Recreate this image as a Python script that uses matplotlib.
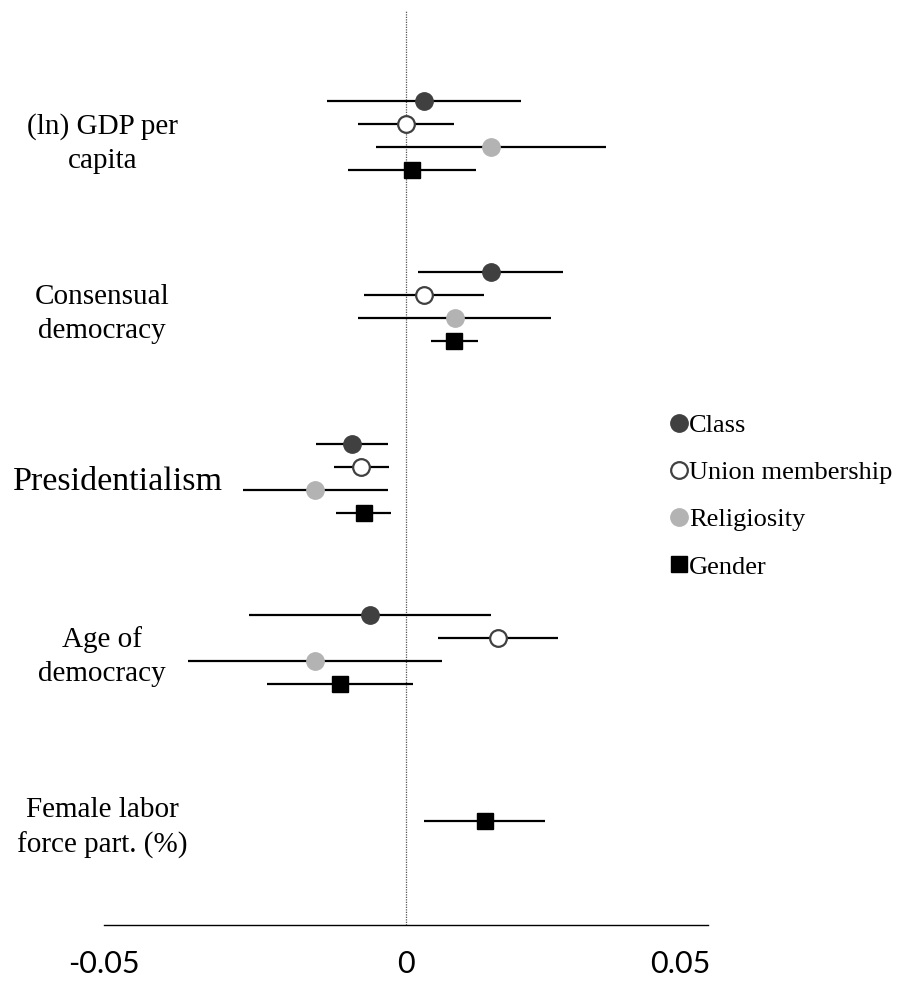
import matplotlib.pyplot as plt
import matplotlib.transforms as mtransforms
import numpy as np

# predictors (rows of the chart)
groups = ["(ln) GDP per\ncapita", "Consensual\ndemocracy", "Presidentialism",
          "Age of\ndemocracy", "Female labor\nforce part. (%)"]

series_names = ["Class", "Union membership", "Religiosity", "Gender"]

nan = np.nan
class_est = [0.003, 0.0141, -0.0089, -0.006, nan]
class_lo = [-0.0131, 0.002, -0.0149, -0.026, nan]
class_hi = [0.019, 0.026, -0.003, 0.0141, nan]

union_est = [0.0, 0.003, -0.0075, 0.0152, nan]
union_lo = [-0.0079, -0.007, -0.0119, 0.0053, nan]
union_hi = [0.0079, 0.0129, -0.0028, 0.0252, nan]

relig_est = [0.0141, 0.0081, -0.0151, -0.0151, nan]
relig_lo = [-0.005, -0.0079, -0.027, -0.0361, nan]
relig_hi = [0.0331, 0.024, -0.003, 0.006, nan]

gender_est = [0.001, 0.0079, -0.007, -0.0109, 0.0131]
gender_lo = [-0.0096, 0.0041, -0.0116, -0.023, 0.003]
gender_hi = [0.0116, 0.0119, -0.0025, 0.0012, 0.023]

xticks = [-0.05, 0, 0.05]
xtick_labels = ["-0.05", "0", "0.05"]

est = np.array([class_est, union_est, relig_est, gender_est])
lo = np.array([class_lo, union_lo, relig_lo, gender_lo])
hi = np.array([class_hi, union_hi, relig_hi, gender_hi])

styles = [
    dict(marker="o", mfc="#404040", mec="#404040", ms=12.5),
    dict(marker="o", mfc="white", mec="#404040", ms=12, mew=1.6),
    dict(marker="o", mfc="#b3b3b3", mec="#b3b3b3", ms=12.5),
    dict(marker="s", mfc="black", mec="black", ms=12),
]

step = 0.1343
n_present = (~np.isnan(est)).sum(axis=0)

fig = plt.figure(figsize=(9.02, 9.9), dpi=100)
ax = fig.add_axes([104 / 902, 65 / 990, 604 / 902, 915 / 990])

ax.axvline(0, color="#555555", linestyle=(0, (1, 1)), linewidth=0.9, zorder=1)

handles = []
for k, name in enumerate(series_names):
    ys = []
    for g in range(len(groups)):
        if n_present[g] == 1:
            ys.append(g)
        else:
            ys.append(g + (k - 1.5) * step)
    ys = np.array(ys)
    ax.hlines(ys, lo[k], hi[k], color="black", linewidth=1.6, zorder=2)
    h, = ax.plot(est[k], ys, linestyle="none", zorder=3, label=name, **styles[k])
    handles.append(h)

ax.set_xlim(-0.05, 0.05)
ax.set_ylim(4.61, -0.733)

for s in ["top", "right", "left"]:
    ax.spines[s].set_visible(False)
ax.spines["bottom"].set_linewidth(1.0)
ax.set_yticks([])
ax.set_xticks(xticks)
ax.set_xticklabels(xtick_labels, fontfamily="Lato", fontsize=22)
ax.tick_params(axis="x", length=0, pad=18)
# Excel pulls the last label inward
offset = mtransforms.ScaledTranslation(-28 / 100, 0, fig.dpi_scale_trans)
lbl = ax.get_xticklabels()[-1]
lbl.set_transform(lbl.get_transform() + offset)

trans = mtransforms.blended_transform_factory(ax.transAxes, ax.transData)
for g, text in enumerate(groups):
    if "\n" in text:
        ax.text(-0.003, g + 0.045, text, transform=trans, ha="center", va="center",
                multialignment="center", fontfamily="Liberation Serif", fontsize=21,
                linespacing=1.4)
    else:
        ax.text(0.023, g + 0.02, text, transform=trans, ha="center", va="center",
                fontfamily="Liberation Serif", fontsize=24.5)

fig.legend(handles=handles, loc="upper left", bbox_to_anchor=(661 / 902, 1 - 403 / 990),
           frameon=False, handlelength=0.55, handletextpad=0.12, labelspacing=0.9,
           borderaxespad=0, prop={"family": "Liberation Serif", "size": 19},
           markerscale=1.0)

fig.savefig("out.png", dpi=100)
